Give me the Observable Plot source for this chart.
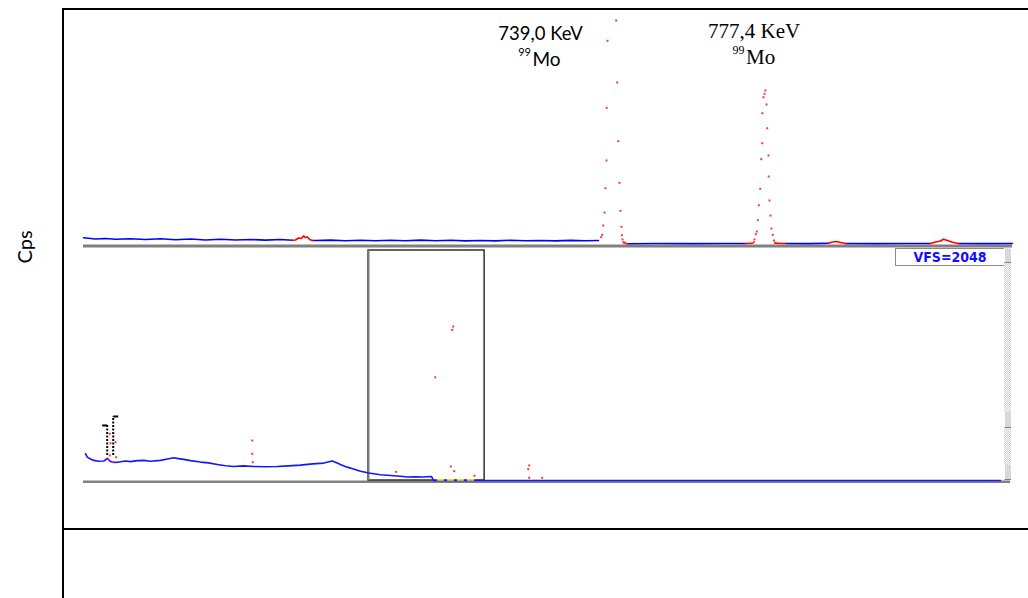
<!DOCTYPE html>
<html><head><meta charset="utf-8">
<script src="https://cdn.jsdelivr.net/npm/d3@7"></script>
<script src="https://cdn.jsdelivr.net/npm/@observablehq/plot@0.6"></script>
<style>
html,body{margin:0;padding:0;background:#fff;}
#page{position:relative;width:1028px;height:598px;overflow:hidden;background:#fff;}
.abs{position:absolute;}
#upper{left:0;top:0;}
#lower{left:0;top:248px;}
#frameTop{left:62px;top:8px;width:966px;height:2px;background:#000;}
#frameLeft{left:62px;top:8px;width:2px;height:590px;background:#000;}
#frameMid{left:62px;top:528px;width:966px;height:2px;background:#000;}
#cps{left:24px;top:247px;transform:translate(-50%,-50%) rotate(-90deg);font:20px Lato,"Open Sans",sans-serif;line-height:1;color:#000;white-space:nowrap;}
#vfs{left:895px;top:248px;width:108px;height:16px;border:1px solid #8a8a8a;background:#fff;color:#1010ff;font:bold 14px "DejaVu Sans Condensed","DejaVu Sans",sans-serif;text-align:center;line-height:16px;}
#scroll{left:1004px;top:248px;width:7px;height:232px;background:repeating-conic-gradient(#cfcfcf 0 25%,#fff 0 50%) 0 0/2px 2px;}
.btn{left:1004px;width:7px;background:#d8d8d8;border-left:1px solid #fff;border-bottom:1px solid #808080;box-sizing:border-box;}
</style></head>
<body><div id="page">
<div id="upper" class="abs"></div>
<div id="lower" class="abs"></div>
<div id="frameTop" class="abs"></div>
<div id="frameLeft" class="abs"></div>
<div id="frameMid" class="abs"></div>
<div id="cps" class="abs">Cps</div>
<div id="vfs" class="abs">VFS=2048</div>
<div id="scroll" class="abs"></div>
<div class="abs btn" style="top:249px;height:14px;"></div>
<div class="abs btn" style="top:412px;height:16px;"></div>
<div class="abs btn" style="top:465px;height:15px;"></div>
</div>
<script>
// ---------- Upper panel (zoomed region, energy in keV, count rate) ----------
const upperDomain = [607, 839.25];
const upperCpsDomain = [0, 1170];

const blue1E = [607,610,612.5,615,618.75,622.5,626.25,630,633.75,637.5,641.25,645,648.75,652.5,656.25,659.25];
const blue1C = [33.5,27.5,30,26,28.5,25,29,24,27.5,22.5,26,22.5,25,22,25,21];
const blue2E = [664.25,665,668.75,672.5,676.25,680,683.75,687.5,691.25,695,698.75,702.5,706.25,710,713.75,717.5,721.25,725,728.75,732.5,735.75];
const blue2C = [20,20,22,19,21.5,18.5,21,19,22,18.5,21,18,20,18,21,18.5,20,18,20.5,18.5,20];
const blue3E = [743,750,760,766,772.5];
const blue3C = [4,5,4.5,5,5];
const blue4E = [782.5,788,793.25];
const blue4C = [5,4.5,6];
const blue5E = [797.5,805,812,818.75];
const blue5C = [5,4.5,5,5];
const blue6E = [825.75,832,839.25];
const blue6C = [5,4.5,5];

const red1E = [659.25,660,660.75,661.5,662,662.5,663,663.5,664.25];
const red1C = [21,22.5,32.5,30,42.5,35,37.5,25,20];
const red2E = [793.25,794.25,795.25,796.25,797.5];
const red2C = [6,12.5,15,10,5];
const red3E = [818.75,820,821.25,822,823,824.25,825.75];
const red3C = [5,12.5,17.5,26.5,20,11.5,5];
const red4E = [772.5,774.3];
const red4C = [5,6];
const red5E = [779.8,782.5];
const red5C = [6,5];
const red6E = [741.9,743];
const red6C = [10,4];

const peak1E = [736.43,736.68,736.93,737.25,737.5,737.75,737.8,738.0,740.18,740.43,740.68,741.0,741.25,741.5,741.6,741.75,742.08,742.9];
const peak1C = [36.5,48.5,95,160,281.5,420,683.5,1018.5,1120,810,516.5,308.5,168.5,88.5,46.5,25,11.5,3.5];
const peak2E = [774.58,774.75,775.08,775.33,775.58,775.83,776.18,776.43,776.68,776.72,777.0,777.25,777.5,777.75,777.93,778.25,778.3,778.5,778.75,779.0,779.33,779.58,780.0];
const peak2C = [11.5,25,51.5,65,121.5,196.5,278.5,426.5,506.5,656.5,736.5,753.5,770,700,581.5,445,340,220,145,80,48.5,20,10];

const peakEnergies = [739.0, 777.4];
const peakLabels = ["739,0 KeV", "777,4 KeV"];
const peakMass = ["99", "99"];
const peakNuclide = ["Mo", "Mo"];

// ---------- Lower panel (full spectrum, VFS=2048) ----------
const lowerDomain = [37, 1891];
const lowerCpsDomain = [0, 2048];
const lowerE = [41,44.4,51,57.6,67,77.6,84.4,91,99,107.6,121,131,145,157.6,171,191,205,217.6,227,237.6,251,271,287,304.4,321,337.6,357,377.6,401,424.4,447,471,495,517.6,534.4,544.4,553,564.4,577,591,607.6,621,631,644.4,657.6,671,684.4,701,715,733,737,1871];
const lowerC = [239,208,192,179,172,173,197,170,161,164,174,168,177,179,172,179,192,203,195,188,177,164,157,143,131,125,130,125,123,125,130,137,148,155,173,155,139,119,103,83,67,58,51,47,42,38,31,34,31,36,0,0];
const lowerDotE = [776.4,774.4,740.4,771.6,778.4,662.4,819,928.4,926.4,928.4,954.4,374.4,374.4,375.6,89.6,91,101,89.6,102.4,96.4,87.6];
const lowerDotC = [1371,1341,919,125,83,77,42,134,101,24,24,356,238,163,416,332,341,223,207,163,184];
const yellowE = [745, 822];
const yellowC = [6, 6];
const roiE = [84.4, 96.4];
const roiTopC = [490, 570];
const roiBottomC = [222, 222];
const roiTabE = [74.4, 106.4];

// ---------- helpers ----------
const rows = (es, cs, seg) => es.map((e, i) => ({energy: e, cps: cs[i], seg}));
const upperBlue = [].concat(rows(blue1E,blue1C,"b1"),rows(blue2E,blue2C,"b2"),rows(blue3E,blue3C,"b3"),rows(blue4E,blue4C,"b4"),rows(blue5E,blue5C,"b5"),rows(blue6E,blue6C,"b6"));
const upperRed = [].concat(rows(red1E,red1C,"r1"),rows(red2E,red2C,"r2"),rows(red3E,red3C,"r3"),rows(red4E,red4C,"r4"),rows(red5E,red5C,"r5"),rows(red6E,red6C,"r6"));
const peakDots = [].concat(rows(peak1E,peak1C,"p1"),rows(peak2E,peak2C,"p2"));
const labels = peakEnergies.map((e,i)=>({energy:e, label:peakLabels[i], mass:peakMass[i], nuclide:peakNuclide[i]}));

const upper = Plot.plot({
  width: 1028, height: 248,
  marginLeft: 83, marginRight: 16, marginTop: 10, marginBottom: 4,
  style: {background: "transparent", overflow: "visible"},
  x: {domain: upperDomain, axis: null},
  y: {domain: upperCpsDomain, axis: null},
  marks: [
    Plot.ruleY([0], {stroke: "#808080", strokeWidth: 3, dy: 1.5}),
    Plot.line(upperBlue, {x: "energy", y: "cps", z: "seg", stroke: "#0000ff", strokeWidth: 1.6}),
    Plot.line(upperRed, {x: "energy", y: "cps", z: "seg", stroke: "#ff0000", strokeWidth: 1.6}),
    Plot.dot(peakDots, {x: "energy", y: "cps", r: 1.1, symbol: "square", fill: "#ff3030"}),
    // label 1 (sans)
    Plot.text([labels[0]], {x: "energy", text: "label", frameAnchor: "top", lineAnchor: "bottom", dx: -71, dy: 29, fontFamily: "Lato", fontSize: 18.5, fill: "#000"}),
    Plot.text([labels[0]], {x: "energy", text: "nuclide", frameAnchor: "top", lineAnchor: "bottom", dx: -65, dy: 55, fontFamily: "Lato", fontSize: 19, fill: "#000"}),
    Plot.text([labels[0]], {x: "energy", text: "mass", frameAnchor: "top", lineAnchor: "bottom", dx: -87, dy: 45, fontFamily: "Lato", fontSize: 11, fill: "#000"}),
    // label 2 (serif)
    Plot.text([labels[1]], {x: "energy", text: "label", frameAnchor: "top", lineAnchor: "bottom", dx: -11, dy: 27.5, fontFamily: "Liberation Serif", fontSize: 21, fill: "#000"}),
    Plot.text([labels[1]], {x: "energy", text: "nuclide", frameAnchor: "top", lineAnchor: "bottom", dx: -4.5, dy: 53.5, fontFamily: "Liberation Serif", fontSize: 21, fill: "#000"}),
    Plot.text([labels[1]], {x: "energy", text: "mass", frameAnchor: "top", lineAnchor: "bottom", dx: -26.5, dy: 43, fontFamily: "Liberation Serif", fontSize: 12, fill: "#000"})
  ]
});
document.getElementById("upper").appendChild(upper);

const lowerLine = rows(lowerE, lowerC, "l");
const lowerDots = rows(lowerDotE, lowerDotC, "d");
const yellow = rows(yellowE, yellowC, "y");
const roi = roiE.map((e,i)=>({energy:e, top:roiTopC[i], bottom:roiBottomC[i], tab:roiTabE[i]}));
const box = [{e1: upperDomain[0], e2: upperDomain[1], c1: lowerCpsDomain[0], c2: lowerCpsDomain[1]}];

const lower = Plot.plot({
  width: 1028, height: 236,
  marginLeft: 83, marginRight: 18, marginTop: 2, marginBottom: 4,
  style: {background: "transparent", overflow: "visible"},
  x: {domain: lowerDomain, axis: null},
  y: {domain: lowerCpsDomain, axis: null},
  marks: [
    Plot.ruleY([0], {stroke: "#808080", strokeWidth: 2.5, dy: 1.3}),
    Plot.rect(box, {x1: "e1", x2: "e2", y1: "c1", y2: "c2", fill: "none", stroke: "#111", strokeWidth: 1.3}),
    Plot.ruleX(box, {x: "e1", y1: "c1", y2: "c2", stroke: "#7a7a7a", strokeWidth: 2}),
    Plot.line(lowerLine, {x: "energy", y: "cps", stroke: "#1515ff", strokeWidth: 1.6}),
    Plot.line(yellow, {x: "energy", y: "cps", stroke: "#f0e020", strokeWidth: 1.6, strokeDasharray: "6,4"}),
    Plot.dot(lowerDots, {x: "energy", y: "cps", r: 1.1, symbol: "square", fill: "#ff3030"}),
    Plot.ruleX(roi, {x: "energy", y1: "bottom", y2: "top", stroke: "#000", strokeWidth: 2, strokeDasharray: "2,1.5"}),
    Plot.link(roi, {x1: "energy", x2: "tab", y1: "top", y2: "top", stroke: "#000", strokeWidth: 2})
  ]
});
document.getElementById("lower").appendChild(lower);
</script>
</body></html>
